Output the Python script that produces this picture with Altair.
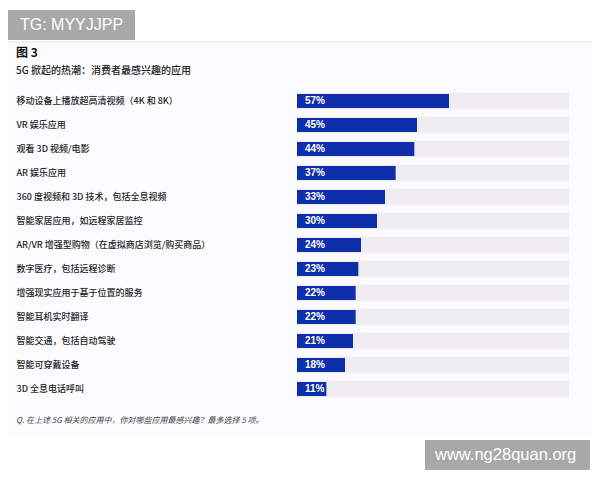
import altair as alt
import pandas as pd

# ---- data ----
categories = [
    "移动设备上播放超高清视频（4K 和 8K）",
    "VR 娱乐应用",
    "观看 3D 视频/电影",
    "AR 娱乐应用",
    "360 度视频和 3D 技术，包括全息视频",
    "智能家居应用，如远程家居监控",
    "AR/VR 增强型购物（在虚拟商店浏览/购买商品）",
    "数字医疗，包括远程诊断",
    "增强现实应用于基于位置的服务",
    "智能耳机实时翻译",
    "智能交通，包括自动驾驶",
    "智能可穿戴设备",
    "3D 全息电话呼叫",
]
values = [57, 45, 44, 37, 33, 30, 24, 23, 22, 22, 21, 18, 11]
value_labels = ["57%", "45%", "44%", "37%", "33%", "30%", "24%", "23%", "22%", "22%", "21%", "18%", "11%"]

title_text = "图 3"
subtitle_text = "5G 掀起的热潮：消费者最感兴趣的应用"
note_text = "Q. 在上述 5G 相关的应用中，你对哪些应用最感兴趣？最多选择 5 项。"
watermark_top = "TG: MYYJJPP"
watermark_bottom = "www.ng28quan.org"

df = pd.DataFrame({"cat": categories, "value": values, "label": value_labels})

W, H = 272, 312
BLUE = "#0e2fa9"
TRACK = "#efedf2"
CJK = "Noto Sans CJK SC"

xscale = alt.Scale(domain=[0, 102], nice=False, zero=True)
yscale = alt.Scale(domain=categories, paddingInner=0, paddingOuter=0)

ybase = alt.Y(
    "cat:N",
    sort=categories,
    scale=yscale,
    axis=alt.Axis(
        title=None, ticks=False, tickSize=0, domain=False, grid=False, zindex=2,
        labelAlign="left", labelPadding=281, labelFont=CJK, labelFontSize=9,
        labelFontWeight=500, labelColor="#1e1e1e", labelLimit=300,
    ),
)
yplain = alt.Y("cat:N", sort=categories, scale=yscale, title=None)

base = alt.Chart(df)

tracks = base.mark_bar(color=TRACK, size=17).encode(
    x=alt.value(0), x2=alt.value(W),
    y=ybase,
)
bars = base.mark_bar(color=BLUE, size=14).encode(
    x=alt.X("value:Q", scale=xscale, axis=None, stack=None),
    y=yplain,
)
pct = base.mark_text(align="left", baseline="middle", dx=8, color="white",
                     font="Liberation Sans", fontWeight="bold", fontSize=10).encode(
    x=alt.datum(0, scale=xscale),
    y=yplain,
    text="label:N",
)


def deco_text(txt, x, y, **kw):
    return alt.Chart(pd.DataFrame({"t": [txt]})).mark_text(align="left", baseline="middle", **kw).encode(
        x=alt.value(x), y=alt.value(y), text="t:N"
    )


def deco_rect(x, x2, y, y2, **kw):
    return alt.Chart(pd.DataFrame({"t": [0]})).mark_rect(**kw).encode(
        x=alt.value(x), x2=alt.value(x2), y=alt.value(y), y2=alt.value(y2)
    )


panel = deco_rect(-289, 295, -47, 348, color="#fcfbfe")
panel_line = alt.Chart(pd.DataFrame({"t": [0]})).mark_rule(color="#e3e3e8", strokeWidth=1).encode(
    x=alt.value(-289), x2=alt.value(295), y=alt.value(-47)
)

title = deco_text(title_text, -281, -36, font=CJK, fontSize=12, fontWeight="bold", color="#111111")
subtitle = deco_text(subtitle_text, -281, -18, font=CJK, fontSize=10, fontWeight=500, color="#222222")
note = deco_text(note_text, -281, 332, font=CJK, fontSize=8, fontStyle="italic", color="#444444")

wm1_box = deco_rect(-289, -162, -79, -49, color="#a8a8a8")
wm1 = deco_text(watermark_top, -277, -64, font="Liberation Sans", fontSize=16, color="white")
wm2_box = deco_rect(128, 293, 351, 381, color="#a8a8a8")
wm2 = deco_text(watermark_bottom, 138, 366, font="Liberation Sans", fontSize=16.5, color="white")

chart = alt.layer(
    panel, panel_line, tracks, bars, pct, title, subtitle, note, wm1_box, wm1, wm2_box, wm2
).properties(
    width=W, height=H,
    autosize=alt.AutoSizeParams(type="none"),
    padding={"left": 289, "top": 81, "right": 23, "bottom": 70},
    background="white",
).configure_view(stroke=None)

chart.save("out.html", embed_options={"renderer": "svg", "actions": False})
